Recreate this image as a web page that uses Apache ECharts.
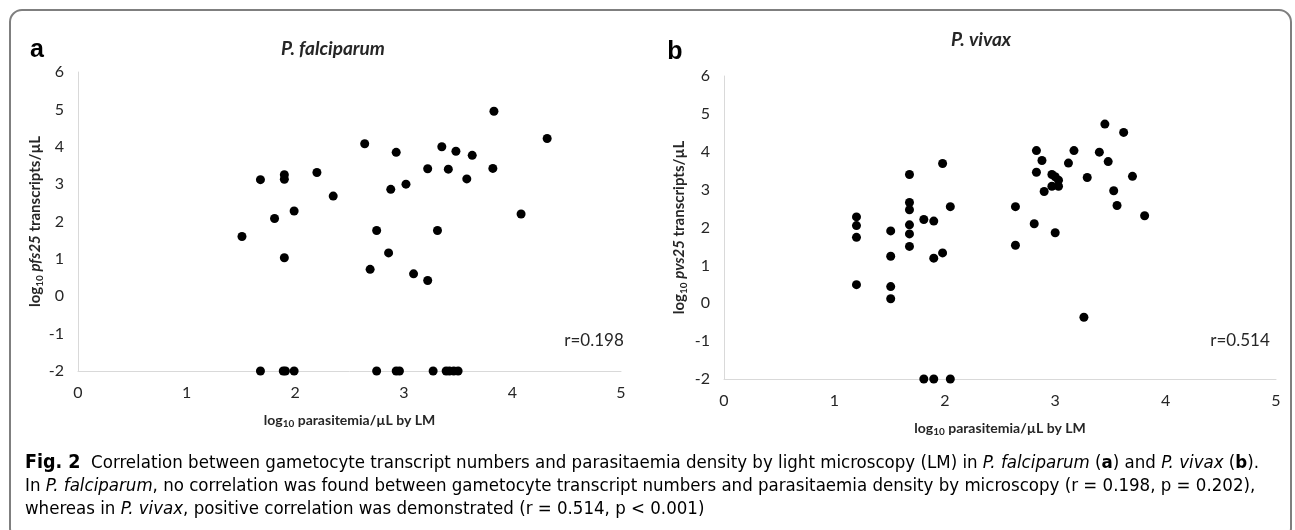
<!DOCTYPE html>
<html>
<head>
<meta charset="utf-8">
<script src="https://cdn.jsdelivr.net/npm/echarts@6/dist/echarts.min.js"></script>
<style>
  html, body { margin: 0; padding: 0; background: #fff; }
  #chart { width: 1295px; height: 530px; }
</style>
</head>
<body>
<div id="chart"></div>
<script>
// P. falciparum: [log10 parasitemia/uL by LM, log10 pfs25 transcripts/uL]
var falciparumPoints = [
  [1.51, 1.60], [1.68, 3.12], [1.81, 2.08], [1.90, 3.25], [1.90, 3.13],
  [1.90, 1.03], [1.99, 2.28], [2.20, 3.31], [2.35, 2.68], [2.64, 4.08],
  [2.69, 0.72], [2.75, 1.76], [2.86, 1.16], [2.88, 2.86], [2.93, 3.85],
  [3.02, 3.00], [3.09, 0.60], [3.22, 0.42], [3.22, 3.41], [3.31, 1.76],
  [3.35, 4.00], [3.41, 3.40], [3.48, 3.88], [3.58, 3.14], [3.63, 3.77],
  [3.82, 3.42], [3.83, 4.95], [4.08, 2.20], [4.32, 4.22],
  [1.68, -2], [1.89, -2], [1.91, -2], [1.99, -2], [2.75, -2], [2.93, -2],
  [2.96, -2], [3.27, -2], [3.39, -2], [3.42, -2], [3.46, -2], [3.50, -2]
];

// P. vivax: [log10 parasitemia/uL by LM, log10 pvs25 transcripts/uL]
var vivaxPoints = [
  [1.20, 2.28], [1.20, 2.05], [1.20, 1.74], [1.20, 0.49], [1.51, 1.91],
  [1.51, 1.24], [1.51, 0.44], [1.51, 0.12], [1.68, 3.40], [1.68, 2.66],
  [1.68, 2.47], [1.68, 2.07], [1.68, 1.83], [1.68, 1.50], [1.81, 2.21],
  [1.90, 2.17], [1.90, 1.19], [1.98, 1.33], [1.98, 3.69], [2.05, 2.55],
  [2.64, 2.55], [2.64, 1.53], [2.81, 2.10], [2.83, 4.03], [2.88, 3.77],
  [2.83, 3.46], [2.97, 3.40], [3.00, 3.34], [3.03, 3.25], [2.97, 3.09],
  [2.90, 2.95], [3.03, 3.09], [3.00, 1.86], [3.12, 3.70], [3.17, 4.03],
  [3.29, 3.32], [3.26, -0.37], [3.40, 3.99], [3.45, 4.73], [3.48, 3.74],
  [3.62, 4.51], [3.53, 2.97], [3.56, 2.58], [3.70, 3.35], [3.81, 2.31],
  [1.81, -2], [1.90, -2], [2.05, -2]
];

var xRange = [0, 5];
var yRange = [-2, 6];
var panelTitles = ["P. falciparum", "P. vivax"];
var geneNames = ["pfs25", "pvs25"];
var rLabels = ["r=0.198", "r=0.514"];

var chartFont = "Lato, 'Open Sans', sans-serif";
var capFont = "'Liberation Sans Narrow', 'DejaVu Sans Condensed', Roboto, sans-serif";
var axisGray = "#d9d9d9";
var textColor = "#262626";

var nameRich = {
  b: { fontFamily: chartFont, fontSize: 14, fontWeight: "bold", color: textColor, lineHeight: 18 },
  bi: { fontFamily: chartFont, fontSize: 14, fontWeight: "bold", fontStyle: "italic", color: textColor, lineHeight: 18 },
  s: { fontFamily: chartFont, fontSize: 10, fontWeight: "bold", color: textColor, verticalAlign: "bottom", lineHeight: 10 }
};
var yNameRich = {
  b: { fontFamily: chartFont, fontSize: 15, fontWeight: "bold", color: textColor, lineHeight: 19 },
  bi: { fontFamily: chartFont, fontSize: 15, fontWeight: "bold", fontStyle: "italic", color: textColor, lineHeight: 19 },
  s: { fontFamily: chartFont, fontSize: 10, fontWeight: "bold", color: textColor, verticalAlign: "bottom", lineHeight: 10 }
};

function makeX(idx) {
  return {
    gridIndex: idx, type: "value", min: xRange[0], max: xRange[1], interval: 1,
    axisLine: { show: true, onZero: false, lineStyle: { color: axisGray, width: 1 } },
    axisTick: { show: false },
    splitLine: { show: false },
    axisLabel: { color: textColor, fontFamily: chartFont, fontSize: 16, margin: 14 },
    name: "{b|log}{s|10}{b| parasitemia/µL by LM}",
    nameLocation: "middle", nameGap: 40,
    nameTextStyle: { rich: nameRich }
  };
}

function makeY(idx) {
  return {
    gridIndex: idx, type: "value", min: yRange[0], max: yRange[1], interval: 1,
    axisLine: { show: true, onZero: false, lineStyle: { color: axisGray, width: 1 } },
    axisTick: { show: false },
    splitLine: { show: false },
    axisLabel: { color: textColor, fontFamily: chartFont, fontSize: 16, margin: 14 },
    name: "{b|log}{s|10}{b| }{bi|" + geneNames[idx] + "}{b| transcripts/µL}",
    nameLocation: "middle", nameRotate: 90, nameGap: idx === 0 ? 30 : 35,
    nameTextStyle: { rich: yNameRich }
  };
}

var chart = echarts.init(document.getElementById("chart"));

var capColor = "#231f20";
var capRich = {
  n: { fontFamily: capFont, fontSize: 18.5, color: capColor },
  b: { fontFamily: capFont, fontSize: 18.5, fontWeight: "bold", color: capColor },
  i: { fontFamily: capFont, fontSize: 18.5, fontStyle: "italic", color: capColor },
  f: { fontFamily: capFont, fontSize: 19.5, fontWeight: "bold", color: capColor }
};

chart.setOption({
  backgroundColor: "#fff",
  animation: false,
  title: [
    { text: panelTitles[0], left: 328, top: 34, textAlign: "center",
      textStyle: { fontFamily: chartFont, fontSize: 19, fontWeight: "bold", fontStyle: "italic", color: textColor } },
    { text: panelTitles[1], left: 976, top: 25, textAlign: "center",
      textStyle: { fontFamily: chartFont, fontSize: 19, fontWeight: "bold", fontStyle: "italic", color: textColor } }
  ],
  grid: [
    { left: 78, right: 674, top: 72, bottom: 159 },
    { left: 724, right: 19, top: 76, bottom: 151 }
  ],
  xAxis: [makeX(0), makeX(1)],
  yAxis: [makeY(0), makeY(1)],
  series: [
    { type: "scatter", xAxisIndex: 0, yAxisIndex: 0, data: falciparumPoints,
      symbolSize: 9, itemStyle: { color: "#000", opacity: 1 } },
    { type: "scatter", xAxisIndex: 1, yAxisIndex: 1, data: vivaxPoints,
      symbolSize: 9, itemStyle: { color: "#000", opacity: 1 } }
  ],
  graphic: [
    { type: "rect", shape: { x: 10, y: 10, width: 1281, height: 530, r: 12 },
      style: { fill: "none", stroke: "#7f7f7f", lineWidth: 2 }, silent: true },
    { type: "text", x: 37, y: 50,
      style: { text: "a", font: "bold 25px 'Liberation Sans', Arial, sans-serif", fill: "#000", align: "center", verticalAlign: "middle" } },
    { type: "text", x: 675, y: 52,
      style: { text: "b", font: "bold 25px 'Liberation Sans', Arial, sans-serif", fill: "#000", align: "center", verticalAlign: "middle" } },
    { type: "text", x: 594, y: 341,
      style: { text: rLabels[0], font: "17px " + chartFont, fill: textColor, align: "center", verticalAlign: "middle" } },
    { type: "text", x: 1240, y: 341,
      style: { text: rLabels[1], font: "17px " + chartFont, fill: textColor, align: "center", verticalAlign: "middle" } },
    { type: "text", x: 25, y: 463,
      style: { text: "{f|Fig. 2}{n|  Correlation between gametocyte transcript numbers and parasitaemia density by light microscopy (LM) in }{i|P. falciparum}{n| (}{b|a}{n|) and }{i|P. vivax}{n| (}{b|b}{n|).}",
        rich: capRich, verticalAlign: "middle" } },
    { type: "text", x: 25, y: 486,
      style: { text: "{n|In }{i|P. falciparum}{n|, no correlation was found between gametocyte transcript numbers and parasitaemia density by microscopy (r = 0.198, p = 0.202),}",
        rich: capRich, verticalAlign: "middle" } },
    { type: "text", x: 25, y: 509,
      style: { text: "{n|whereas in }{i|P. vivax}{n|, positive correlation was demonstrated (r = 0.514, p < 0.001)}",
        rich: capRich, verticalAlign: "middle" } }
  ]
});
</script>
</body>
</html>
